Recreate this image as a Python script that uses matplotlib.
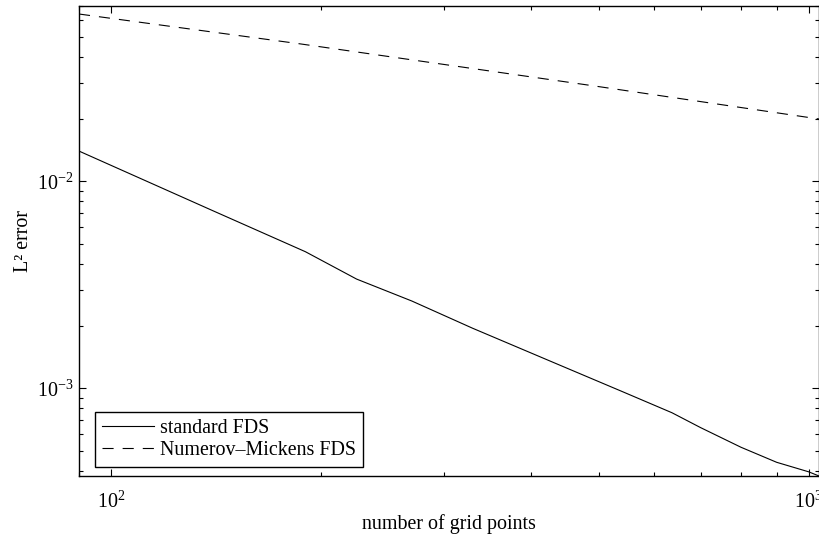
import matplotlib
matplotlib.use("Agg")
import matplotlib.pyplot as plt

plt.rcParams['font.family'] = ['Liberation Serif', 'DejaVu Serif']
plt.rcParams['mathtext.fontset'] = 'custom'
plt.rcParams['mathtext.rm'] = 'Liberation Serif'
plt.rcParams['mathtext.it'] = 'Liberation Serif:italic'
plt.rcParams['font.size'] = 14.4
plt.rcParams['lines.scale_dashes'] = False

# error vs. grid size for both schemes
n_std = [90, 100, 140, 190, 225, 270, 330, 437, 540, 637, 700, 800, 900, 1000, 1035]
err_std = [1.40e-2, 1.195e-2, 7.21e-3, 4.57e-3, 3.37e-3, 2.64e-3, 1.95e-3,
           1.306e-3, 9.66e-4, 7.62e-4, 6.46e-4, 5.19e-4, 4.39e-4, 3.95e-4, 3.77e-4]

n_nm = [90, 187, 489, 1035]
err_nm = [0.0643, 0.0461, 0.0290, 0.0200]

labels = ["standard FDS", "Numerov\u2013Mickens FDS"]

fig = plt.figure(figsize=(8.2, 5.35), dpi=100)
ax = fig.add_axes([0.0963, 0.1103, 0.9025, 0.8785])

ax.loglog(n_std, err_std, color='black', lw=0.8, label=labels[0])
ax.loglog(n_nm, err_nm, color='black', lw=0.8, dashes=(8, 6.5), label=labels[1])

ax.set_xlim(90, 1035)
ax.set_ylim(3.77e-4, 0.0703)

ax.set_xlabel("number of grid points", labelpad=1)
ax.set_ylabel("L\u00b2 error", labelpad=3)

for s in ax.spines.values():
    s.set_linewidth(1.0)
ax.tick_params(which='both', direction='in', top=True, right=True, width=0.8)
ax.tick_params(which='major', length=5)
ax.tick_params(which='minor', length=2.7)
ax.tick_params(axis='x', which='major', pad=11)
ax.tick_params(axis='y', which='major', pad=4)

leg = ax.legend(loc='lower left', bbox_to_anchor=(0.0216, 0.019), borderaxespad=0,
                fancybox=False, edgecolor='black', framealpha=1,
                handlelength=2.6, handletextpad=0.3, labelspacing=0.13,
                borderpad=0.35)
leg.get_frame().set_linewidth(1.0)

fig.savefig("out.png", dpi=100)
